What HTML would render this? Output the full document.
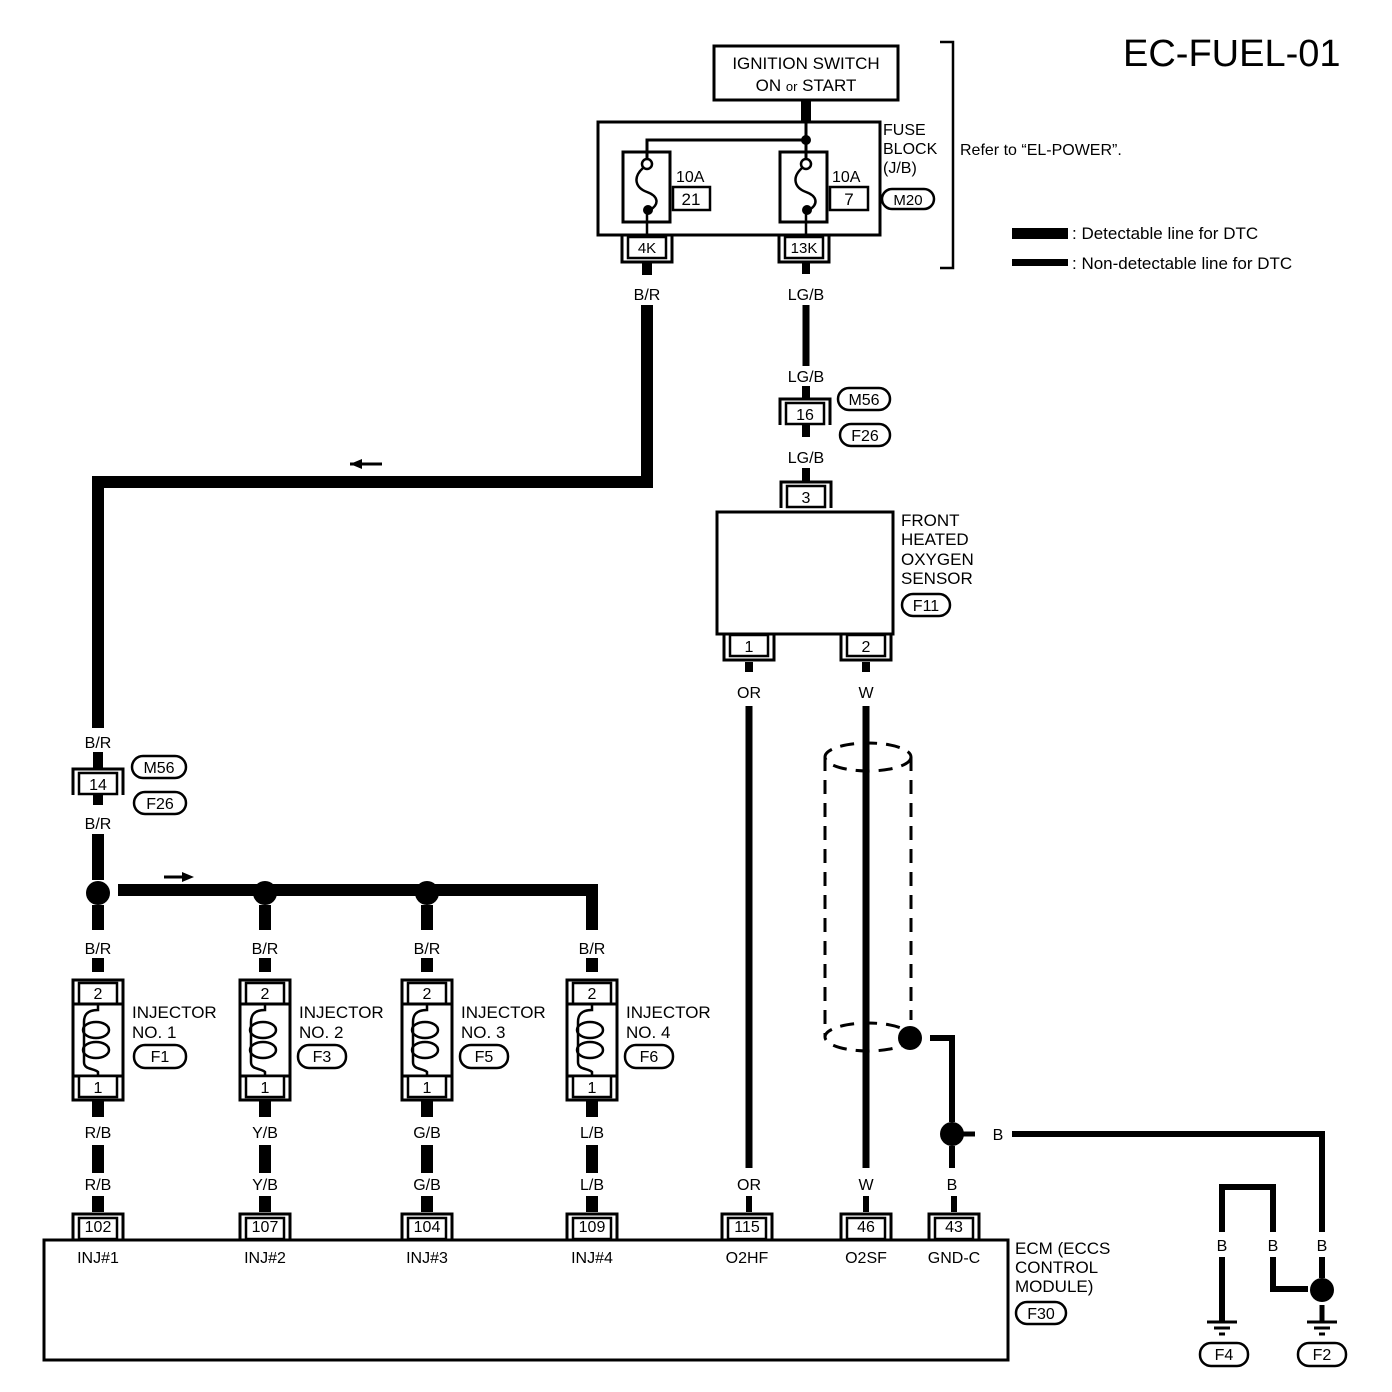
<!DOCTYPE html>
<html><head><meta charset="utf-8"><style>
html,body{margin:0;padding:0;background:#fff}
svg{display:block}
text{font-family:"Liberation Sans",Arial,sans-serif;fill:#000}
</style></head><body>
<svg width="1392" height="1392" viewBox="0 0 1392 1392" xmlns="http://www.w3.org/2000/svg">
<defs>
 <g id="ct"><path d="M-25,14 V-12 H25 V14" fill="none" stroke="#000" stroke-width="3"/><rect x="-19" y="-8" width="38" height="21" fill="#fff" stroke="#000" stroke-width="2.5"/></g>
 <g id="cb"><path d="M-25,-14 V12 H25 V-14" fill="none" stroke="#000" stroke-width="3"/><rect x="-19" y="-13" width="38" height="21" fill="#fff" stroke="#000" stroke-width="2.5"/></g>
 <g id="inj">
  <rect x="-6" y="958" width="12" height="14" fill="#000"/>
  <path d="M-25,1005 V980 H25 V1005" fill="none" stroke="#000" stroke-width="3"/>
  <rect x="-19" y="983" width="38" height="21" fill="#fff" stroke="#000" stroke-width="2.5"/>
  <rect x="-25" y="1004" width="50" height="72" fill="#fff" stroke="#000" stroke-width="3"/>
  <path d="M0,1004 V1010 C-12,1010 -14,1016 -14,1022 V1062 C-14,1070 -4,1068 0,1072 V1076" fill="none" stroke="#000" stroke-width="2.5"/>
  <ellipse cx="-2" cy="1030" rx="13" ry="8" fill="none" stroke="#000" stroke-width="2.5"/>
  <ellipse cx="-2" cy="1050" rx="13" ry="8" fill="none" stroke="#000" stroke-width="2.5"/>
  <path d="M-25,1074 V1100 H25 V1074" fill="none" stroke="#000" stroke-width="3"/>
  <rect x="-19" y="1076" width="38" height="21" fill="#fff" stroke="#000" stroke-width="2.5"/>
  <rect x="-6" y="1101" width="12" height="16" fill="#000"/>
  <rect x="-6" y="1145" width="12" height="28" fill="#000"/>
  <rect x="-6" y="1196" width="12" height="16" fill="#000"/>
 </g>
</defs>

<text x="1123" y="66" font-size="38">EC-FUEL-01</text>

<rect x="714" y="46" width="184" height="54" fill="#fff" stroke="#000" stroke-width="3"/>
<text x="806" y="69" font-size="17" text-anchor="middle">IGNITION SWITCH</text>
<text x="806" y="91" font-size="17" text-anchor="middle">ON <tspan font-size="13">or</tspan> START</text>
<rect x="801" y="100" width="10" height="24" fill="#000"/>

<rect x="598" y="122" width="282" height="113" fill="#fff" stroke="#000" stroke-width="3"/>
<path d="M806,122 V160 M806,140 H647 V160" fill="none" stroke="#000" stroke-width="3"/>
<circle cx="806" cy="140" r="5"/>
<rect x="623" y="152" width="47" height="70" fill="none" stroke="#000" stroke-width="3"/>
<rect x="780" y="152" width="47" height="70" fill="none" stroke="#000" stroke-width="3"/>
<g fill="none" stroke="#000" stroke-width="2.5">
<circle cx="647" cy="164" r="5" fill="#fff"/><path d="M643,168 C632,178 636,188 647,192 C658,196 660,204 650,210"/><path d="M647,210 V236"/>
<circle cx="806" cy="164" r="5" fill="#fff"/><path d="M802,168 C791,178 795,188 806,192 C817,196 819,204 809,210"/><path d="M806,210 V236"/>
</g>
<circle cx="648" cy="210" r="5"/><circle cx="807" cy="210" r="5"/>
<text x="676" y="182" font-size="16">10A</text>
<rect x="673" y="187" width="37" height="23" fill="#fff" stroke="#000" stroke-width="2.5"/>
<text x="691" y="205" font-size="17" text-anchor="middle">21</text>
<text x="832" y="182" font-size="16">10A</text>
<rect x="830" y="187" width="38" height="23" fill="#fff" stroke="#000" stroke-width="2.5"/>
<text x="849" y="205" font-size="17" text-anchor="middle">7</text>
<use href="#cb" x="647" y="250"/><text x="647" y="253" font-size="15" text-anchor="middle">4K</text>
<use href="#cb" x="804" y="250"/><text x="804" y="253" font-size="15" text-anchor="middle">13K</text>
<text x="883" y="135" font-size="16">FUSE</text>
<text x="883" y="154" font-size="16">BLOCK</text>
<text x="883" y="173" font-size="16">(J/B)</text>
<rect x="882" y="189" width="52" height="20" rx="10" fill="none" stroke="#000" stroke-width="2.5"/>
<text x="908" y="205" font-size="15" text-anchor="middle">M20</text>
<path d="M940,42 H953 V268 H940" fill="none" stroke="#000" stroke-width="2.5"/>
<text x="960" y="155" font-size="16">Refer to “EL-POWER”.</text>
<rect x="1012" y="228" width="56" height="11" fill="#000"/>
<text x="1072" y="239" font-size="17">: Detectable line for DTC</text>
<rect x="1012" y="259" width="56" height="7" fill="#000"/>
<text x="1072" y="269" font-size="17">: Non-detectable line for DTC</text>

<rect x="642" y="262" width="10" height="13" fill="#000"/>
<text x="647" y="300" font-size="16" text-anchor="middle">B/R</text>
<path d="M647,305 V482 H98 V728" fill="none" stroke="#000" stroke-width="12"/>
<path d="M350,464 H382" stroke="#000" stroke-width="3"/><path d="M350,464 L362,459 V469 Z"/>
<text x="98" y="748" font-size="16" text-anchor="middle">B/R</text>
<rect x="93" y="752" width="10" height="17" fill="#000"/>
<use href="#ct" x="98" y="781"/><text x="98" y="790" font-size="16" text-anchor="middle">14</text>
<rect x="93" y="795" width="10" height="10" fill="#000"/>
<rect x="132" y="756" width="54" height="22" rx="11" fill="none" stroke="#000" stroke-width="2.5"/><text x="159" y="773" font-size="16" text-anchor="middle">M56</text>
<rect x="134" y="792" width="52" height="22" rx="11" fill="none" stroke="#000" stroke-width="2.5"/><text x="160" y="809" font-size="16" text-anchor="middle">F26</text>
<text x="98" y="829" font-size="16" text-anchor="middle">B/R</text>
<path d="M98,834 V880" stroke="#000" stroke-width="12"/>
<circle cx="98" cy="893" r="12"/>
<path d="M118,890 H592 V930" fill="none" stroke="#000" stroke-width="12"/>
<circle cx="265" cy="893" r="12"/><circle cx="427" cy="893" r="12"/>
<path d="M265,905 V930 M427,905 V930" stroke="#000" stroke-width="12"/>
<path d="M98,905 V930" stroke="#000" stroke-width="12"/>
<path d="M164,877 H190" stroke="#000" stroke-width="3"/><path d="M194,877 L182,872 V882 Z"/>

<g font-size="16" text-anchor="middle">
<use href="#inj" x="98"/><use href="#inj" x="265"/><use href="#inj" x="427"/><use href="#inj" x="592"/>
<text x="98" y="954">B/R</text><text x="265" y="954">B/R</text><text x="427" y="954">B/R</text><text x="592" y="954">B/R</text>
<text x="98" y="999">2</text><text x="265" y="999">2</text><text x="427" y="999">2</text><text x="592" y="999">2</text>
<text x="98" y="1093">1</text><text x="265" y="1093">1</text><text x="427" y="1093">1</text><text x="592" y="1093">1</text>
<text x="98" y="1138">R/B</text><text x="265" y="1138">Y/B</text><text x="427" y="1138">G/B</text><text x="592" y="1138">L/B</text>
<text x="98" y="1190">R/B</text><text x="265" y="1190">Y/B</text><text x="427" y="1190">G/B</text><text x="592" y="1190">L/B</text>
</g>
<g font-size="17">
<text x="132" y="1018">INJECTOR</text><text x="132" y="1038">NO. 1</text>
<text x="299" y="1018">INJECTOR</text><text x="299" y="1038">NO. 2</text>
<text x="461" y="1018">INJECTOR</text><text x="461" y="1038">NO. 3</text>
<text x="626" y="1018">INJECTOR</text><text x="626" y="1038">NO. 4</text>
</g>
<g fill="none" stroke="#000" stroke-width="2.5">
<rect x="134" y="1045" width="52" height="23" rx="11"/><rect x="298" y="1045" width="48" height="23" rx="11"/>
<rect x="460" y="1045" width="48" height="23" rx="11"/><rect x="625" y="1045" width="48" height="23" rx="11"/>
</g>
<g font-size="16" text-anchor="middle">
<text x="160" y="1062">F1</text><text x="322" y="1062">F3</text><text x="484" y="1062">F5</text><text x="649" y="1062">F6</text>
</g>

<rect x="802" y="262" width="8" height="12" fill="#000"/>
<text x="806" y="300" font-size="16" text-anchor="middle">LG/B</text>
<path d="M806,305 V366" stroke="#000" stroke-width="7"/>
<text x="806" y="382" font-size="16" text-anchor="middle">LG/B</text>
<rect x="802" y="386" width="8" height="14" fill="#000"/>
<use href="#ct" x="805" y="411"/><text x="805" y="420" font-size="16" text-anchor="middle">16</text>
<rect x="802" y="425" width="8" height="12" fill="#000"/>
<rect x="838" y="388" width="52" height="22" rx="11" fill="none" stroke="#000" stroke-width="2.5"/><text x="864" y="405" font-size="16" text-anchor="middle">M56</text>
<rect x="840" y="424" width="50" height="22" rx="11" fill="none" stroke="#000" stroke-width="2.5"/><text x="865" y="441" font-size="16" text-anchor="middle">F26</text>
<text x="806" y="463" font-size="16" text-anchor="middle">LG/B</text>
<rect x="802" y="468" width="8" height="14" fill="#000"/>
<use href="#ct" x="806" y="494"/><text x="806" y="503" font-size="16" text-anchor="middle">3</text>
<rect x="717" y="512" width="176" height="122" fill="#fff" stroke="#000" stroke-width="3"/>
<g font-size="17"><text x="901" y="526">FRONT</text><text x="901" y="545">HEATED</text><text x="901" y="565">OXYGEN</text><text x="901" y="584">SENSOR</text></g>
<rect x="902" y="594" width="48" height="22" rx="11" fill="none" stroke="#000" stroke-width="2.5"/><text x="926" y="611" font-size="16" text-anchor="middle">F11</text>
<use href="#cb" x="749" y="648"/><text x="749" y="652" font-size="16" text-anchor="middle">1</text>
<use href="#cb" x="866" y="648"/><text x="866" y="652" font-size="16" text-anchor="middle">2</text>
<rect x="745" y="662" width="8" height="10" fill="#000"/><rect x="862" y="662" width="8" height="10" fill="#000"/>
<text x="749" y="698" font-size="16" text-anchor="middle">OR</text>
<text x="866" y="698" font-size="16" text-anchor="middle">W</text>
<path d="M749,706 V1168 M866,706 V1168" stroke="#000" stroke-width="7"/>
<g fill="none" stroke="#000" stroke-width="3" stroke-dasharray="14,9">
<ellipse cx="868" cy="757" rx="43" ry="14"/>
<ellipse cx="868" cy="1037" rx="43" ry="14"/>
<path d="M825,757 V1037 M911,757 V1020"/>
</g>
<circle cx="910" cy="1038" r="12"/>
<path d="M930,1038 H952 V1122" fill="none" stroke="#000" stroke-width="6"/>
<circle cx="952" cy="1134" r="12"/>
<path d="M952,1146 V1168" stroke="#000" stroke-width="6"/>
<path d="M960,1134 H975" stroke="#000" stroke-width="5"/>
<text x="998" y="1140" font-size="16" text-anchor="middle">B</text>
<path d="M1012,1134 H1322 V1232" fill="none" stroke="#000" stroke-width="6"/>
<g font-size="16" text-anchor="middle">
<text x="749" y="1190">OR</text><text x="866" y="1190">W</text><text x="952" y="1190">B</text>
</g>
<g stroke="#000" stroke-width="6"><path d="M749,1196 V1212 M866,1196 V1212 M954,1196 V1212"/></g>

<rect x="44" y="1240" width="964" height="120" fill="#fff" stroke="#000" stroke-width="3"/>
<use href="#ct" x="98" y="1226"/><use href="#ct" x="265" y="1226"/><use href="#ct" x="427" y="1226"/><use href="#ct" x="592" y="1226"/>
<use href="#ct" x="747" y="1226"/><use href="#ct" x="866" y="1226"/><use href="#ct" x="954" y="1226"/>
<g font-size="16" text-anchor="middle">
<text x="98" y="1232">102</text><text x="265" y="1232">107</text><text x="427" y="1232">104</text><text x="592" y="1232">109</text>
<text x="747" y="1232">115</text><text x="866" y="1232">46</text><text x="954" y="1232">43</text>
<text x="98" y="1263">INJ#1</text><text x="265" y="1263">INJ#2</text><text x="427" y="1263">INJ#3</text><text x="592" y="1263">INJ#4</text>
<text x="747" y="1263">O2HF</text><text x="866" y="1263">O2SF</text><text x="954" y="1263">GND-C</text>
</g>
<g font-size="17"><text x="1015" y="1254">ECM (ECCS</text><text x="1015" y="1273">CONTROL</text><text x="1015" y="1292">MODULE)</text></g>
<rect x="1016" y="1302" width="50" height="22" rx="11" fill="none" stroke="#000" stroke-width="2.5"/><text x="1041" y="1319" font-size="16" text-anchor="middle">F30</text>

<path d="M1222,1232 V1187 H1273 V1232" fill="none" stroke="#000" stroke-width="6"/>
<g font-size="16" text-anchor="middle"><text x="1222" y="1251">B</text><text x="1273" y="1251">B</text><text x="1322" y="1251">B</text></g>
<path d="M1222,1257 V1322" stroke="#000" stroke-width="6"/>
<path d="M1273,1257 V1289 H1308" fill="none" stroke="#000" stroke-width="6"/>
<path d="M1322,1257 V1278" stroke="#000" stroke-width="6"/>
<circle cx="1322" cy="1290" r="12"/>
<path d="M1322,1305 V1322" stroke="#000" stroke-width="5"/>
<g stroke="#000" stroke-width="3">
<path d="M1207,1322 H1237 M1214,1328 H1230 M1219,1334 H1225"/>
<path d="M1307,1322 H1337 M1314,1328 H1330 M1319,1334 H1325"/>
</g>
<rect x="1200" y="1343" width="48" height="23" rx="11" fill="none" stroke="#000" stroke-width="2.5"/><text x="1224" y="1360" font-size="16" text-anchor="middle">F4</text>
<rect x="1298" y="1343" width="48" height="23" rx="11" fill="none" stroke="#000" stroke-width="2.5"/><text x="1322" y="1360" font-size="16" text-anchor="middle">F2</text>
</svg>
</body></html>
